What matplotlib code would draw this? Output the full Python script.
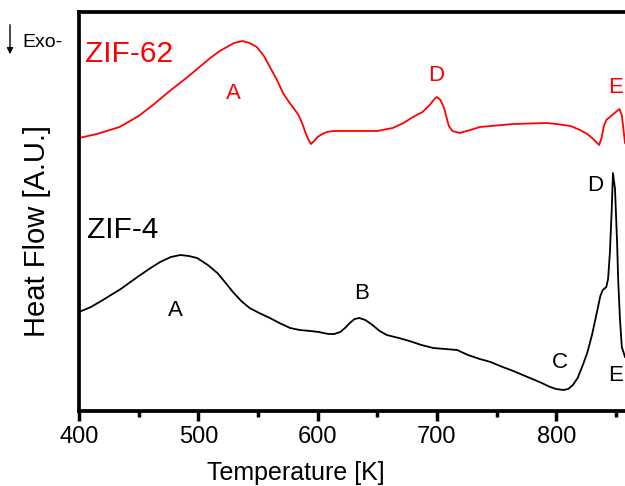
import numpy as np
import matplotlib.pyplot as plt
from matplotlib.patches import FancyArrowPatch

plt.rcParams['font.family'] = ['Liberation Sans', 'DejaVu Sans']

# DSC traces, heat flow in arbitrary units (exo down)
t_zif62 = [400, 415, 434, 450, 462, 476, 490, 500, 510, 518,
           524, 530, 537, 543, 549, 555, 560, 566, 571, 576,
           581, 584, 587, 590, 592, 594.5, 597, 600, 604, 608,
           613, 625, 650, 663, 672, 680, 688, 694, 698, 700,
           703, 706, 708, 710, 713, 719, 728, 736, 764, 792,
           800, 812, 820, 826, 831, 836, 838, 840, 842, 847,
           853, 855, 857.7]
hf_zif62 = [273, 277, 284, 295, 306, 320, 333, 343, 353, 360,
            364, 368, 370, 368, 364, 355, 344, 331, 318, 309,
            301, 296, 288, 278, 272, 267, 270, 274, 277, 279,
            280, 280, 280, 283, 288, 294, 299, 306, 312, 314,
            311, 303, 294, 285, 280, 278, 281, 284, 287, 288,
            287, 285, 281, 277, 272, 266, 273, 285, 291, 296,
            302, 296, 268]

t_zif4 = [400, 410, 420, 435, 449, 460, 468, 477, 485, 492,
          499, 508, 516, 523, 529, 536, 543, 551, 560, 568,
          577, 585, 594, 601, 609, 614, 619, 623, 627, 631,
          635, 640, 646, 652, 658, 668, 677, 687, 697, 707,
          717, 726, 736, 745, 753, 764, 776, 786, 795, 800,
          806, 810, 814, 818, 822, 826, 830, 834, 837, 839,
          842, 843.5, 845, 846.5, 847.6, 849.3, 851, 852, 853.5, 855,
          857.7]
hf_zif4 = [99, 104, 111, 122, 134, 143, 149, 154, 156, 155,
           153, 146, 138, 128, 119, 110, 103, 98, 93, 88,
           83, 81, 80, 79, 77, 77, 79, 83, 88, 92,
           93, 91, 86, 80, 76, 73, 70, 66, 63, 62,
           61, 56, 52, 49, 45, 40, 34, 29, 24, 22,
           21, 22, 26, 33, 45, 58, 76, 98, 115, 121,
           124, 132, 158, 200, 238, 222, 170, 130, 91, 64,
           54]

# peak labels: (text, temperature, heat flow)
peaks_zif62 = [("A", 529, 318), ("D", 699, 336), ("E", 850, 324)]
peaks_zif4 = [("A", 481, 101), ("B", 637, 118), ("C", 803, 49),
              ("D", 832.5, 226), ("E", 850, 36)]

W, H = 625, 486
fig = plt.figure(figsize=(W / 100, H / 100), dpi=100)
ax = fig.add_axes([79 / W, 75 / H, 560.7 / W, 399 / H])

ax.plot(t_zif62, hf_zif62, color='red', lw=1.3)
ax.plot(t_zif4, hf_zif4, color='black', lw=1.3)

for lab, t, v in peaks_zif62:
    ax.text(t, v, lab, color='red', fontsize=16, ha='center', va='center')
for lab, t, v in peaks_zif4:
    ax.text(t, v, lab, color='black', fontsize=16, ha='center', va='center')

ax.text(405, 349, "ZIF-62", color='red', fontsize=21.5, va='baseline')
ax.text(406.7, 173, "ZIF-4", color='black', fontsize=21.5, va='baseline')

ax.set_xlim(400, 870)
ax.set_ylim(0, 399)
ax.set_xticks([400, 500, 600, 700, 800])
ax.set_xticks([450, 550, 650, 750, 850], minor=True)
ax.set_yticks([])
ax.tick_params(axis='x', which='major', direction='out', length=7, width=2.5,
               labelsize=17, pad=4)
ax.tick_params(axis='x', which='minor', direction='out', length=4, width=2.5)
for s in ['left', 'bottom', 'top']:
    ax.spines[s].set_linewidth(2.7)
ax.spines['right'].set_visible(False)

fig.text(37 / W, 1 - 231 / H, "Heat Flow [A.U.]", rotation=90,
         ha='center', va='center', fontsize=21)
fig.text(296 / W, 1 - 480 / H, "Temperature [K]", ha='center',
         va='baseline', fontsize=18)

# exotherm direction marker
fig.text(22 / W, 1 - 47 / H, "Exo-", fontsize=14, va='baseline')
fig.patches.append(FancyArrowPatch(
    (10 / W, 1 - 22 / H), (10 / W, 1 - 57 / H), transform=fig.transFigure,
    arrowstyle='-|>', mutation_scale=9, lw=1, color='black'))

fig.savefig("out.png", dpi=100)
